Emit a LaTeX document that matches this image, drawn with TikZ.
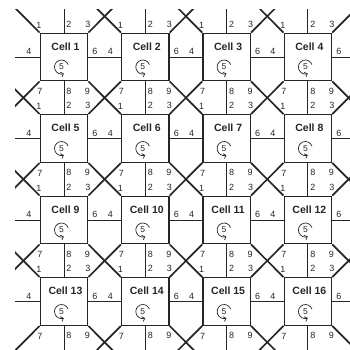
\documentclass[tikz,border=0pt]{standalone}
\usepackage{fontspec}
\setmainfont{Liberation Sans}
\usetikzlibrary{arrows.meta}

\begin{document}
\begin{tikzpicture}[x=1pt, y=1pt,
  cellbox/.style={draw=black!85, line width=1.3pt, minimum size=47.5pt, inner sep=0pt},
  ghostbox/.style={minimum size=47.5pt, inner sep=0pt},
  cellname/.style={font=\fontsize{10.5}{12}\selectfont\bfseries, text=black!85, inner sep=0pt},
  num/.style={font=\fontsize{9}{10}\selectfont, text=black!85, inner sep=0pt},
  turnnum/.style={font=\fontsize{8.5}{9}\selectfont, text=black!85, inner sep=0pt},
  split/.style={draw=black!85, line width=1pt},
  cross/.style={draw=black!85, line width=1.7pt},
  turn/.style={draw=black!85, line width=0.7pt, -{Straight Barb[length=2.5pt, width=5pt]}}]

  \useasboundingbox (0,0) rectangle (350,-349);
  \clip (15,-9) rectangle (350,-349);

  %--- cells: ring 0 and 5 lie off the page, they only carry the lines ---
  \foreach \r in {0,...,5}{
    \foreach \c in {0,...,5}{
      \def\kind{ghostbox}
      \ifnum\r>0 \ifnum\r<5 \ifnum\c>0 \ifnum\c<5 \def\kind{cellbox}\fi\fi\fi\fi
      \node[\kind] (cell-\r-\c) at ({64+81.3*(\c-1)}, {-57-81.5*(\r-1)}) {};
    }
  }

  %--- thin lines that split the gaps ---
  \foreach \r in {0,...,5}{
    \foreach \c [evaluate=\c as \cn using int(\c+1)] in {0,...,4}{
      \draw[split] (cell-\r-\c.east) -- (cell-\r-\cn.west);
      \draw[split] (cell-\c-\r.south) -- (cell-\cn-\r.north);
    }
  }

  %--- diagonals, crossing between four cells (none between two ghosts) ---
  \foreach \r [evaluate=\r as \rn using int(\r+1)] in {0,...,4}{
    \foreach \c [evaluate=\c as \cn using int(\c+1)] in {0,...,4}{
      \pgfmathtruncatemacro{\usea}{(\r>0)*(\r<5)*(\c>0)*(\c<5)+(\rn>0)*(\rn<5)*(\cn>0)*(\cn<5)}
      \pgfmathtruncatemacro{\useb}{(\r>0)*(\r<5)*(\cn>0)*(\cn<5)+(\rn>0)*(\rn<5)*(\c>0)*(\c<5)}
      \ifnum\usea>0 \draw[cross] (cell-\r-\c.south east) -- (cell-\rn-\cn.north west);\fi
      \ifnum\useb>0 \draw[cross] (cell-\r-\cn.south west) -- (cell-\rn-\c.north east);\fi
    }
  }

  %--- labels of each cell ---
  \foreach \r in {1,...,4}{
    \foreach \c in {1,...,4}{
      \pgfmathtruncatemacro{\n}{4*(\r-1)+\c}
      \begin{scope}[shift={(cell-\r-\c)}]
        \node[cellname] (name-\n) at (1.5,10.3) {Cell \n};
        \node[num] (k1-\n) at (-25,32) {1};
        \node[num] (k2-\n) at (5,33) {2};
        \node[num] (k3-\n) at (24,33) {3};
        \node[num] (k4-\n) at (-35,5.5) {4};
        \node[num] (k6-\n) at (31,5.5) {6};
        \node[num] (k7-\n) at (-24,-34.5) {7};
        \node[num] (k8-\n) at (5,-34) {8};
        \node[num] (k9-\n) at (23.5,-34) {9};
        % turning arrow round the 5
        \node[turnnum] (k5-\n) at (-2.5,-10) {5};
        \draw[turn] (k5-\n.center) ++(20:7) arc (20:290:7);
      \end{scope}
    }
  }
\end{tikzpicture}
\end{document}
